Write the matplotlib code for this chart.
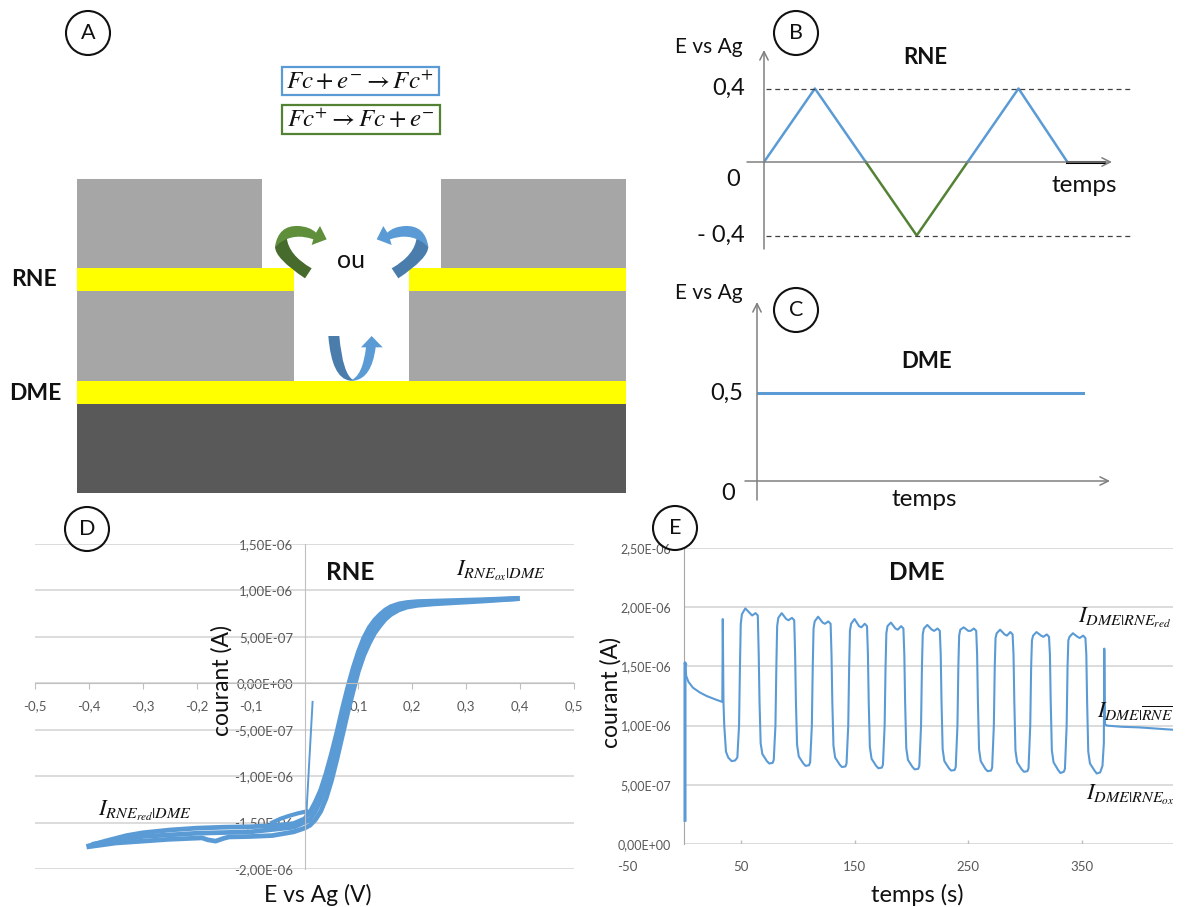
import matplotlib
matplotlib.use('Agg')
import matplotlib.pyplot as plt
from matplotlib.patches import Rectangle, Circle, PathPatch
from matplotlib.path import Path

W, H = 1189, 907
plt.rcParams['font.family'] = ['Lato', 'DejaVu Sans']
plt.rcParams['mathtext.fontset'] = 'stix'

BLUE = '#5b9bd5'
GREEN = '#548235'
GRID = '#d9d9d9'
TICK = '#595959'

# panel B : potentiel RNE
t_b_ox1 = [0, 1, 2]
e_b_ox1 = [0, 0.4, 0]
t_b_red = [2, 3, 4]
e_b_red = [0, -0.4, 0]
t_b_ox2 = [4, 5, 5.96]
e_b_ox2 = [0, 0.4, 0]
t_b_off = [5.96, 6.68]
e_b_off = [0, 0]

# panel C : potentiel DME
t_c = [0, 1]
e_c = [0.5, 0.5]

# panel D : voltamogramme RNE (E en V, I en 1e-6 A)
e_d_start = [0.015, 0.004, 0.002]
i_d_start = [-0.2, -1.35, -1.42]
e_d_bump = [0.004, -0.012, -0.03, -0.045, -0.06]
i_d_bump = [-1.38, -1.40, -1.43, -1.46, -1.50]
e_d_up = [-0.4, -0.37, -0.33, -0.3, -0.25, -0.2, -0.15, -0.1, -0.05, -0.02, 0.0, 0.01, 0.02, 0.03, 0.04, 0.05,
          0.06, 0.07, 0.08, 0.09, 0.1, 0.11, 0.12, 0.13, 0.14, 0.15, 0.16, 0.175, 0.19, 0.21, 0.24, 0.27, 0.33, 0.395]
i_d_up = [-1.75, -1.70, -1.64, -1.61, -1.58, -1.56, -1.55, -1.545, -1.53, -1.51, -1.46, -1.39, -1.28, -1.15, -0.97,
          -0.76, -0.53, -0.28, -0.05, 0.16, 0.34, 0.49, 0.60, 0.68, 0.74, 0.79, 0.825, 0.855, 0.87, 0.88, 0.885,
          0.89, 0.90, 0.915]
e_d_down = [0.395, 0.33, 0.27, 0.24, 0.21, 0.19, 0.175, 0.16, 0.15, 0.14, 0.13, 0.12, 0.11, 0.10, 0.09, 0.08, 0.07,
            0.06, 0.05, 0.04, 0.03, 0.02, 0.01, 0.0, -0.02, -0.06, -0.1, -0.14, -0.15, -0.165, -0.18, -0.19, -0.25,
            -0.3, -0.35, -0.4]
i_d_down = [0.91, 0.885, 0.865, 0.855, 0.84, 0.82, 0.79, 0.74, 0.69, 0.62, 0.54, 0.43, 0.30, 0.13, -0.09, -0.32,
            -0.57, -0.82, -1.05, -1.24, -1.38, -1.47, -1.53, -1.56, -1.60, -1.64, -1.65, -1.655, -1.67, -1.70,
            -1.685, -1.665, -1.68, -1.70, -1.72, -1.76]
e_d_mid = [-0.39, -0.3, -0.2, -0.1, -0.02, 0.01, 0.02, 0.03, 0.04, 0.05, 0.06, 0.07, 0.08, 0.09, 0.1, 0.11, 0.12,
           0.13, 0.14, 0.15, 0.16, 0.18, 0.2, 0.3, 0.39]
i_d_mid = [-1.73, -1.65, -1.615, -1.60, -1.55, -1.47, -1.38, -1.26, -1.10, -0.90, -0.67, -0.42, -0.18, 0.04, 0.24,
           0.40, 0.52, 0.62, 0.69, 0.75, 0.79, 0.84, 0.86, 0.885, 0.91]

# panel E : chronoamperometrie DME (t en s, I en 1e-6 A)
t_e = [1, 1, 1.4, 2, 4, 8, 14, 20, 28, 33.8, 34.2, 34.8, 35.5, 37, 39, 42, 45,
       47, 48.5, 49.3, 50, 51, 54, 58, 60, 63, 65, 65.8, 66.5, 67.5, 69, 73, 75, 78,
       79, 80.5, 81.3, 82, 83, 86, 90, 92, 95, 97, 97.8, 98.5, 99.5, 101, 105, 107, 110,
       111, 112.5, 113.3, 114, 115, 118, 122, 124, 127, 129, 129.8, 130.5, 131.5, 133, 137, 139, 142,
       143, 144.5, 145.3, 146, 147, 150, 154, 156, 159, 161, 161.8, 162.5, 163.5, 165, 169, 171, 174,
       175, 176.5, 177.3, 178, 179, 182, 186, 188, 191, 193, 193.8, 194.5, 195.5, 197, 201, 203, 206,
       207, 208.5, 209.3, 210, 211, 214, 218, 220, 223, 225, 225.8, 226.5, 227.5, 229, 233, 235, 238,
       239, 240.5, 241.3, 242, 243, 246, 250, 252, 255, 257, 257.8, 258.5, 259.5, 261, 265, 267, 270,
       271, 272.5, 273.3, 274, 275, 278, 282, 284, 287, 289, 289.8, 290.5, 291.5, 293, 297, 299, 302,
       303, 304.5, 305.3, 306, 307, 310, 314, 316, 319, 321, 321.8, 322.5, 323.5, 325, 329, 331, 334,
       335, 336.5, 337.3, 338, 339, 342, 346, 348, 351, 353, 353.8, 354.5, 355.5, 357, 361, 363, 366,
       368, 369.2, 369.6, 370.2, 372, 385, 400, 415, 430]
i_e = [0.2, 1.53, 1.52, 1.42, 1.37, 1.32, 1.28, 1.25, 1.22, 1.2, 1.9, 1.2, 1.0, 0.78, 0.73, 0.70, 0.705,
       0.73, 1.0, 1.5, 1.86, 1.94, 1.99, 1.95, 1.93, 1.95, 1.93, 1.6, 1.2, 0.85, 0.76, 0.70, 0.68, 0.685,
       0.71, 1.0, 1.5, 1.84, 1.91, 1.95, 1.90, 1.89, 1.91, 1.89, 1.6, 1.2, 0.84, 0.74, 0.68, 0.66, 0.665,
       0.69, 1.0, 1.5, 1.82, 1.88, 1.92, 1.87, 1.86, 1.88, 1.86, 1.6, 1.2, 0.83, 0.73, 0.67, 0.65, 0.655,
       0.68, 1.0, 1.5, 1.80, 1.86, 1.90, 1.84, 1.83, 1.86, 1.84, 1.6, 1.2, 0.82, 0.72, 0.66, 0.64, 0.645,
       0.67, 1.0, 1.5, 1.78, 1.84, 1.87, 1.82, 1.81, 1.84, 1.82, 1.6, 1.2, 0.81, 0.71, 0.65, 0.63, 0.635,
       0.66, 1.0, 1.5, 1.77, 1.82, 1.85, 1.81, 1.80, 1.82, 1.80, 1.6, 1.2, 0.80, 0.70, 0.64, 0.62, 0.625,
       0.65, 1.0, 1.5, 1.76, 1.81, 1.83, 1.80, 1.80, 1.82, 1.80, 1.6, 1.2, 0.80, 0.70, 0.635, 0.615, 0.62,
       0.645, 1.0, 1.5, 1.74, 1.78, 1.81, 1.77, 1.76, 1.79, 1.77, 1.6, 1.2, 0.79, 0.69, 0.63, 0.61, 0.615,
       0.64, 1.0, 1.5, 1.72, 1.76, 1.79, 1.76, 1.75, 1.77, 1.75, 1.6, 1.2, 0.79, 0.69, 0.625, 0.60, 0.61,
       0.635, 1.0, 1.5, 1.72, 1.75, 1.78, 1.75, 1.74, 1.76, 1.74, 1.6, 1.2, 0.78, 0.68, 0.62, 0.595, 0.605,
       0.66, 0.85, 1.65, 1.01, 1.0, 0.99, 0.985, 0.975, 0.965]

d_xticks = [-0.5, -0.4, -0.3, -0.2, -0.1, 0.1, 0.2, 0.3, 0.4, 0.5]
d_xlabels = ['-0,5', '-0,4', '-0,3', '-0,2', '-0,1', '0,1', '0,2', '0,3', '0,4', '0,5']
d_yticks = [-2, -1.5, -1, -0.5, 0, 0.5, 1, 1.5]
d_ylabels = ['-2,00E-06', '-1,50E-06', '-1,00E-06', '-5,00E-07', '0,00E+00', '5,00E-07', '1,00E-06', '1,50E-06']
e_xticks = [-50, 50, 150, 250, 350]
e_yticks = [0, 0.5, 1.0, 1.5, 2.0, 2.5]
e_ylabels = ['0,00E+00', '5,00E-07', '1,00E-06', '1,50E-06', '2,00E-06', '2,50E-06']


def px_axes(left, top, right, bottom, **kw):
    return fig.add_axes([left / W, 1 - bottom / H, (right - left) / W, (bottom - top) / H], **kw)


def z3(pts):
    return [(230 + x / 3, 50 + y / 3) for x, y in pts]


def ribbon(pts, codes, color, mirror=False):
    if mirror:
        pts = [(730 - x, y) for x, y in pts]
    path = Path(z3(pts), codes)
    over.add_patch(PathPatch(path, fc=color, ec='none', zorder=4))


def label(x, y, s, size=15, **kw):
    over.text(x, y, s, ha='center', va='center', fontsize=size, color=kw.pop('color', '#111111'), **kw)


def arrow(x0, y0, x1, y1):
    over.annotate('', xy=(x1, y1), xytext=(x0, y0),
                  arrowprops=dict(arrowstyle='->,head_length=0.6,head_width=0.3', color='#808080', lw=1.1,
                                  shrinkA=0, shrinkB=0))


fig = plt.figure(figsize=(W / 100, H / 100), dpi=100)

# panneau D
ax_d = px_axes(35, 544, 574, 869)
ax_d.set_xlim(-0.5, 0.5)
ax_d.set_ylim(-2, 1.5)
ax_d.patch.set_alpha(0)
ax_d.spines['top'].set_visible(False)
ax_d.spines['right'].set_visible(False)
ax_d.spines['left'].set_position(('data', 0))
ax_d.spines['bottom'].set_position(('data', 0))
for s in ['left', 'bottom']:
    ax_d.spines[s].set_color('#bfbfbf')
ax_d.set_axisbelow(True)
ax_d.grid(axis='y', color=GRID, lw=1.3)
ax_d.set_xticks(d_xticks, d_xlabels, fontsize=9.5, color=TICK)
ax_d.set_yticks(d_yticks, d_ylabels, fontsize=9.5, color=TICK)
ax_d.tick_params(axis='x', length=4, color='#bfbfbf', pad=8)
ax_d.tick_params(axis='y', length=0, pad=8)
ax_d.plot(e_d_start, i_d_start, color=BLUE, lw=1.4)
ax_d.plot(e_d_bump, i_d_bump, color=BLUE, lw=3)
ax_d.plot(e_d_up, i_d_up, color=BLUE, lw=3.4, solid_joinstyle='round')
ax_d.plot(e_d_down, i_d_down, color=BLUE, lw=3.4, solid_joinstyle='round')
ax_d.plot(e_d_mid, i_d_mid, color=BLUE, lw=3.4, solid_joinstyle='round')

# panneau E
ax_e = px_axes(627, 548, 1173, 844)
ax_e.set_xlim(-50, 430)
ax_e.set_ylim(0, 2.5)
ax_e.patch.set_alpha(0)
ax_e.spines['top'].set_visible(False)
ax_e.spines['right'].set_visible(False)
ax_e.spines['left'].set_position(('data', 0))
ax_e.spines['left'].set_color('#a6a6a6')
ax_e.spines['bottom'].set_visible(False)
ax_e.hlines(e_yticks, 0, 430, color=GRID, lw=1.3, zorder=1)
ax_e.set_xticks(e_xticks, [str(v) for v in e_xticks], fontsize=9.5, color=TICK)
ax_e.set_yticks(e_yticks, e_ylabels, fontsize=9, color=TICK)
ax_e.tick_params(axis='x', length=0, pad=12)
ax_e.tick_params(axis='y', length=0, pad=9)
ax_e.vlines([50, 150, 250, 350], 0, 0.03, color='#bfbfbf', lw=1, zorder=1)
ax_e.plot(t_e[:3], i_e[:3], color=BLUE, lw=2.2, zorder=3)
ax_e.plot(t_e[2:], i_e[2:], color=BLUE, lw=1.5, zorder=3)

# panneau B
ax_b = px_axes(764, 50, 1132, 250)
ax_b.set_xlim(0, 368 / 50.9)
ax_b.set_ylim((162 - 250) / 183.75, (162 - 50) / 183.75)
ax_b.axis('off')
ax_b.plot(t_b_ox1, e_b_ox1, color=BLUE, lw=1.8)
ax_b.plot(t_b_red, e_b_red, color=GREEN, lw=1.8)
ax_b.plot(t_b_ox2, e_b_ox2, color=BLUE, lw=1.8)
ax_b.plot(t_b_off, e_b_off, color='black', lw=2.2)
ax_b.hlines([0.4, -0.4], 0.03, 7.2, color='#404040', lw=0.9, linestyles=(0, (4, 3)))

# panneau C
ax_c = px_axes(757, 302, 1085, 481)
ax_c.set_xlim(0, 1)
ax_c.set_ylim(0, 179 / 88 * 0.5)
ax_c.axis('off')
ax_c.plot(t_c, e_c, color=BLUE, lw=2.2)

# calque en pixels pour le schema et les textes
over = fig.add_axes([0, 0, 1, 1], zorder=10)
over.set_xlim(0, W)
over.set_ylim(H, 0)
over.axis('off')

# panneau A : empilement
blocks = [(77, 179, 185, 89, '#a6a6a6'), (441, 179, 185, 89, '#a6a6a6'),
          (77, 268, 217, 23, '#ffff00'), (409, 268, 217, 23, '#ffff00'),
          (77, 291, 217, 90, '#a6a6a6'), (409, 291, 217, 90, '#a6a6a6'),
          (77, 381, 549, 23, '#ffff00'), (77, 404, 549, 89, '#595959')]
for x, y, w, h, c in blocks:
    over.add_patch(Rectangle((x, y), w, h, fc=c, ec='none', zorder=2))

over.add_patch(Rectangle((282, 67), 157, 28, fc='white', ec=BLUE, lw=1.6))
over.add_patch(Rectangle((282, 105), 158, 29, fc='white', ec=GREEN, lw=1.6))
label(360, 81, r'$Fc + e^{-} \rightarrow Fc^{+}$', size=18)
label(361, 119, r'$Fc^{+} \rightarrow Fc + e^{-}$', size=18)

M, L, C3 = Path.MOVETO, Path.LINETO, Path.CURVE3
low_pts = [(225, 685), (135, 625), (135, 590), (150, 575), (170, 562), (175, 615), (245, 655), (225, 685)]
low_codes = [M, C3, C3, L, L, C3, C3, L]
top_pts = [(135, 590), (145, 525), (205, 528), (240, 530), (258, 548), (270, 528), (290, 568),
           (245, 585), (250, 568), (195, 548), (150, 578), (135, 590)]
top_codes = [M, C3, C3, C3, C3, L, L, L, L, C3, C3, L]
ribbon(low_pts, low_codes, '#466b2c')
ribbon(top_pts, top_codes, '#5f8f3a')
ribbon(low_pts, low_codes, '#4a7dac', mirror=True)
ribbon(top_pts, top_codes, BLUE, mirror=True)
ribbon([(295, 858), (328, 858), (338, 975), (372, 992), (360, 992), (305, 985), (295, 858)],
       [M, L, C3, C3, L, C3, C3], '#4a7dac')
ribbon([(360, 992), (398, 980), (408, 892), (393, 892), (425, 858), (458, 892), (437, 892),
        (425, 985), (372, 992), (360, 992)],
       [M, C3, C3, L, L, L, L, C3, C3, L], BLUE)

label(351, 261, 'ou', size=18)
label(34, 279, 'RNE', size=16.5, fontweight='bold')
label(35, 393, 'DME', size=16.5, fontweight='bold')

# axes fleches B et C
arrow(764, 249, 764, 50)
arrow(747, 162, 1112, 162)
arrow(757, 500, 757, 302)
arrow(745, 481, 1110, 481)

label(709, 47, 'E vs Ag', size=15)
label(729, 88, '0,4', size=17)
label(733, 179, '0', size=17)
label(721, 235, '- 0,4', size=17)
label(1084, 186, 'temps', size=17.5)
label(925, 57, 'RNE', size=16, fontweight='bold')
label(709, 293, 'E vs Ag', size=15)
label(727, 393, '0,5', size=17)
label(728, 494, '0', size=17)
label(924, 499, 'temps', size=17.5)
label(927, 361, 'DME', size=16, fontweight='bold')

# textes D et E
label(350, 573, 'RNE', size=17.5, fontweight='bold')
label(917, 573, 'DME', size=17.5, fontweight='bold')
label(222, 680, 'courant (A)', size=16.5, rotation=90)
label(318, 895, 'E vs Ag (V)', size=16.5)
label(611, 693, 'courant (A)', size=16.5, rotation=90)
label(917, 895, 'temps (s)', size=17)
label(501, 571, r'$I_{RNE_{ox}|DME}$', size=16.5)
label(145, 811, r'$I_{RNE_{red}|DME}$', size=16.5)
label(1125, 618, r'$I_{DME|RNE_{red}}$', size=16.5)
label(1135, 712, r'$I_{DME|\overline{RNE}}$', size=16)
label(1130, 795, r'$I_{DME|RNE_{ox}}$', size=16.5)

# lettres des panneaux
letters = [('A', 88, 33), ('B', 796, 33), ('C', 796, 310), ('D', 87, 529), ('E', 675, 528)]
for s, x, y in letters:
    over.add_patch(Circle((x, y), 22, fc='none', ec='#111111', lw=1.5, zorder=6))
    label(x, y, s, size=15.5, zorder=7)

fig.savefig('out.png', dpi=100)
